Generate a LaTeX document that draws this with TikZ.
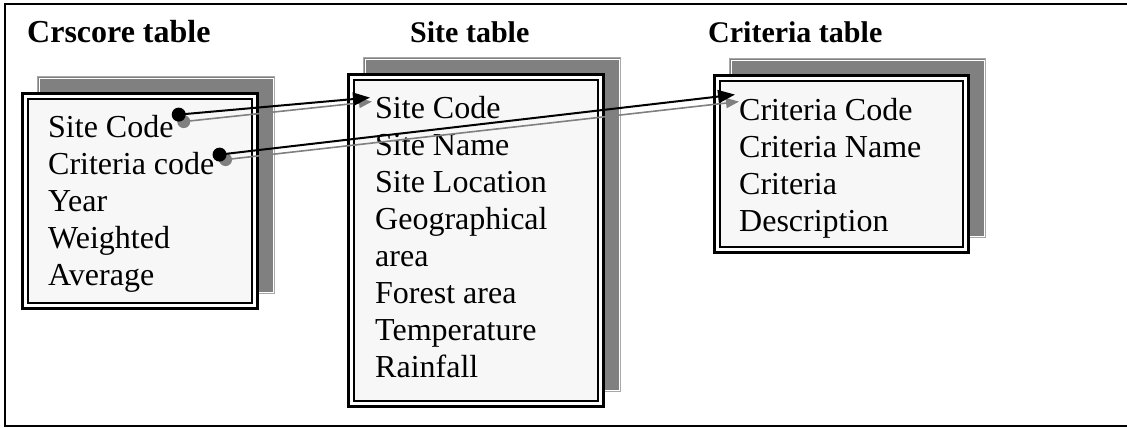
\documentclass[tikz,border=0pt]{standalone}
\usepackage{fontspec}
\setmainfont{Liberation Serif}
\usetikzlibrary{calc,arrows.meta}
\definecolor{shadowgray}{HTML}{808080}
\definecolor{shadowrim}{HTML}{A8A8A8}
\definecolor{paper}{HTML}{F7F7F7}
\tikzset{
  title/.style={anchor=base west,inner sep=0pt,font=\fontsize{30}{36}\selectfont\bfseries},
  field/.style={anchor=base west,inner sep=0pt,font=\fontsize{32}{37}\selectfont},
  linkmain/.style={draw=black,line width=2pt,-{Triangle[length=17pt,width=13pt]}},
  linkshade/.style={draw=shadowgray,line width=1.6pt,-{Triangle[length=13pt,width=10pt]}},
  dotmain/.style={fill=black},
  dotshade/.style={fill=shadowgray},
}
% table card from top-left (#1,#2) to bottom-right (#3,#4):
% shadow panel behind, then double-ruled front panel
\newcommand{\tablecard}[4]{%
  \fill[shadowgray] ($(#1,#2)+(16,-16)$) rectangle ($(#3,#4)+(16,-16)$);
  \draw[shadowrim,line width=1pt] ($(#1,#2)+(16.5,-15.5)$) rectangle ($(#3,#4)+(15.5,-16.5)$);
  \draw[white,line width=0.8pt] ($(#1,#2)+(18,-14)$) rectangle ($(#3,#4)+(14,-18)$);
  \filldraw[fill=white,draw=black,line width=3pt] ($(#1,#2)+(1.5,1.5)$) rectangle ($(#3,#4)+(-1.5,-1.5)$);
  \filldraw[fill=paper,draw=black,line width=2pt] ($(#1,#2)+(7,7)$) rectangle ($(#3,#4)+(-7,-7)$);
}
\begin{document}
\begin{tikzpicture}[x=1pt,y=-1pt]
  \useasboundingbox (0,0) rectangle (1127,428);
  % surrounding frame (right side runs off the page)
  \draw[line width=2pt] (5,4) rectangle (1130,426);

  % titles
  \node[title,font=\fontsize{32}{36}\selectfont\bfseries] (tcs) at (27,43) {Crscore table};
  \node[title] (tst) at (410,43) {Site table};
  \node[title] (tcr) at (708,43) {Criteria table};

  % cards
  \tablecard{21}{92}{259}{310}
  \tablecard{347}{73}{605}{408}
  \tablecard{713}{74}{970}{254}

  % Crscore fields
  \node[field] (cs1) at (48,137) {Site Code};
  \node[field] (cs2) at (48,174) {Criteria code};
  \node[field] (cs3) at (48,211) {Year};
  \node[field] (cs4) at (48,248) {Weighted};
  \node[field] (cs5) at (48,285) {Average};

  % Site fields
  \node[field] (st1) at (375,118) {Site Code};
  \node[field] (st2) at (375,155) {Site Name};
  \node[field] (st3) at (375,192) {Site Location};
  \node[field] (st4) at (375,229) {Geographical};
  \node[field] (st5) at (375,266) {area};
  \node[field] (st6) at (375,303) {Forest area};
  \node[field] (st7) at (375,340) {Temperature};
  \node[field] (st8) at (375,377) {Rainfall};

  % Criteria fields
  \node[field] (cr1) at (739,120) {Criteria Code};
  \node[field] (cr2) at (739,157) {Criteria Name};
  \node[field] (cr3) at (739,194) {Criteria};
  \node[field] (cr4) at (739,231) {Description};

  % link end points
  \coordinate (a1) at ($(cs1.north east)+(5,0)$);
  \coordinate (b1) at ($(st1.north west)+(-5,2)$);
  \coordinate (a2) at ($(cs2.north east)+(5,3)$);
  \coordinate (b2) at ($(cr1.north west)+(-4,-3)$);
  \coordinate (a1s) at ($(a1)+(5,7)$);
  \coordinate (b1s) at ($(b1)+(2,4)$);
  \coordinate (a2s) at ($(a2)+(6,5)$);
  \coordinate (b2s) at ($(b2)+(4,7)$);

  % shaded copies of the links
  \fill[dotshade] (a1s) circle (6.5);
  \fill[dotshade] (a2s) circle (6.5);
  \draw[linkshade] (a1s) -- (b1s);
  \draw[linkshade] (a2s) -- (b2s);

  % links
  \fill[dotmain] (a1) circle (7);
  \fill[dotmain] (a2) circle (7);
  \draw[linkmain] (a1) -- (b1);
  \draw[linkmain] (a2) -- (b2);
\end{tikzpicture}
\end{document}
